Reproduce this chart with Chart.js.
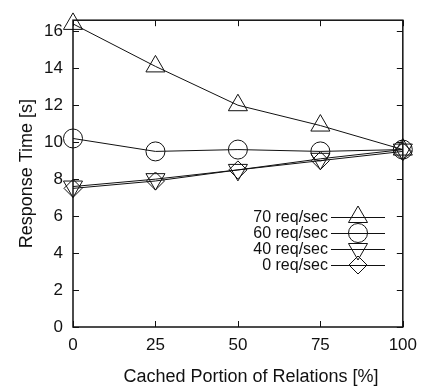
<!DOCTYPE html>
<html>
<head>
<meta charset="utf-8">
<script src="https://cdn.jsdelivr.net/npm/chart.js"></script>
<style>
    html, body { margin: 0; padding: 0; background: #fff; }
    #wrap { width: 425px; height: 388px; }
</style>
</head>
<body>
<div id="wrap"><canvas id="responseChart" width="425" height="388"></canvas></div>
<script>
// Data
const cachedPortion = [0, 25, 50, 75, 100];
const rate70 = [16.4, 14.1, 12.0, 10.9, 9.6];
const rate60 = [10.2, 9.5, 9.6, 9.5, 9.6];
const rate40 = [7.6, 8.0, 8.5, 9.1, 9.6];
const rate0 = [7.5, 7.9, 8.5, 9.0, 9.5];
const seriesNames = ['70 req/sec', '60 req/sec', '40 req/sec', '0 req/sec'];
const xTicks = [0, 25, 50, 75, 100];
const yTicks = [0, 2, 4, 6, 8, 10, 12, 14, 16];

const FONT = '"Liberation Sans", Arial, sans-serif';
const INK = '#111';

function toPoints(values) {
    return values.map((v, i) => ({ x: cachedPortion[i], y: v }));
}

function makeDataset(label, values, style, radius, rotation) {
    return {
        label: label,
        data: toPoints(values),
        borderColor: INK,
        borderWidth: 1,
        backgroundColor: 'rgba(0,0,0,0)',
        pointStyle: style,
        pointRadius: radius,
        pointRotation: rotation || 0,
        pointBorderColor: INK,
        pointBorderWidth: 1,
        pointBackgroundColor: 'rgba(0,0,0,0)',
        tension: 0,
        clip: false
    };
}

// Frame, inward ticks, x title and the legend inside the plot, gnuplot style
const gnuplotFrame = {
    id: 'gnuplotFrame',
    afterDraw(chart) {
        const ctx = chart.ctx;
        const area = chart.chartArea;
        const xs = chart.scales.x;
        const ys = chart.scales.y;
        const tick = 6;
        ctx.save();
        ctx.strokeStyle = INK;
        ctx.lineWidth = 1.5;
        ctx.strokeRect(area.left, area.top, area.right - area.left, area.bottom - area.top);
        ctx.lineWidth = 1;
        ctx.beginPath();
        xTicks.forEach(v => {
            const px = Math.round(xs.getPixelForValue(v)) + 0.5;
            ctx.moveTo(px, area.bottom); ctx.lineTo(px, area.bottom - tick);
            ctx.moveTo(px, area.top); ctx.lineTo(px, area.top + tick);
        });
        yTicks.forEach(v => {
            const py = Math.round(ys.getPixelForValue(v)) + 0.5;
            ctx.moveTo(area.left, py); ctx.lineTo(area.left + tick, py);
            ctx.moveTo(area.right, py); ctx.lineTo(area.right - tick, py);
        });
        ctx.stroke();

        // x axis title (sits a bit right of the plot centre in the original)
        ctx.fillStyle = INK;
        ctx.font = '18px ' + FONT;
        ctx.textAlign = 'center';
        ctx.textBaseline = 'middle';
        ctx.fillText('Cached Portion of Relations [%]', 251, 377);

        // legend
        ctx.font = '16px ' + FONT;
        ctx.textAlign = 'right';
        const textRight = 328;
        const lineL = 331, lineR = 385;
        const rowY = [217, 233, 249, 265];
        chart.data.datasets.forEach((ds, i) => {
            const y = rowY[i];
            ctx.fillStyle = INK;
            ctx.fillText(ds.label, textRight, y + 1);
            ctx.beginPath();
            ctx.moveTo(lineL, y + 0.5);
            ctx.lineTo(lineR, y + 0.5);
            ctx.lineWidth = 1;
            ctx.stroke();
            ctx.fillStyle = 'rgba(0,0,0,0)';
            Chart.helpers.drawPoint(ctx, {
                pointStyle: ds.pointStyle,
                rotation: ds.pointRotation,
                radius: ds.pointRadius,
                borderWidth: 1
            }, (lineL + lineR) / 2, y);
        });
        ctx.restore();
    }
};

function fixTicks(values) {
    return function (axis) {
        axis.ticks = values.map(v => ({ value: v }));
    };
}

new Chart(document.getElementById('responseChart'), {
    type: 'line',
    data: {
        datasets: [
            makeDataset(seriesNames[0], rate70, 'triangle', 11),
            makeDataset(seriesNames[1], rate60, 'circle', 9.5),
            makeDataset(seriesNames[2], rate40, 'triangle', 11, 180),
            makeDataset(seriesNames[3], rate0, 'rectRot', 9)
        ]
    },
    options: {
        responsive: false,
        animation: false,
        layout: { padding: { top: 16, right: 21, left: 0, bottom: 0 } },
        plugins: {
            legend: { display: false },
            tooltip: { enabled: false }
        },
        scales: {
            x: {
                type: 'linear',
                min: 0,
                max: 100,
                afterBuildTicks: fixTicks(xTicks),
                afterFit(axis) { axis.height = 61; },
                grid: { display: false, drawTicks: false },
                border: { display: false },
                ticks: {
                    color: INK,
                    padding: 8,
                    maxRotation: 0,
                    font: { family: FONT, size: 17 }
                },
                title: { display: false }
            },
            y: {
                type: 'linear',
                min: 0,
                max: 16.6,
                afterBuildTicks: fixTicks(yTicks),
                afterFit(axis) { axis.width = 73; },
                grid: { display: false, drawTicks: false },
                border: { display: false },
                ticks: {
                    color: INK,
                    padding: 10,
                    font: { family: FONT, size: 17 }
                },
                title: {
                    display: true,
                    text: 'Response Time [s]',
                    color: INK,
                    padding: { top: 16, bottom: 0 },
                    font: { family: FONT, size: 18 }
                }
            }
        }
    },
    plugins: [gnuplotFrame]
});
</script>
</body>
</html>
